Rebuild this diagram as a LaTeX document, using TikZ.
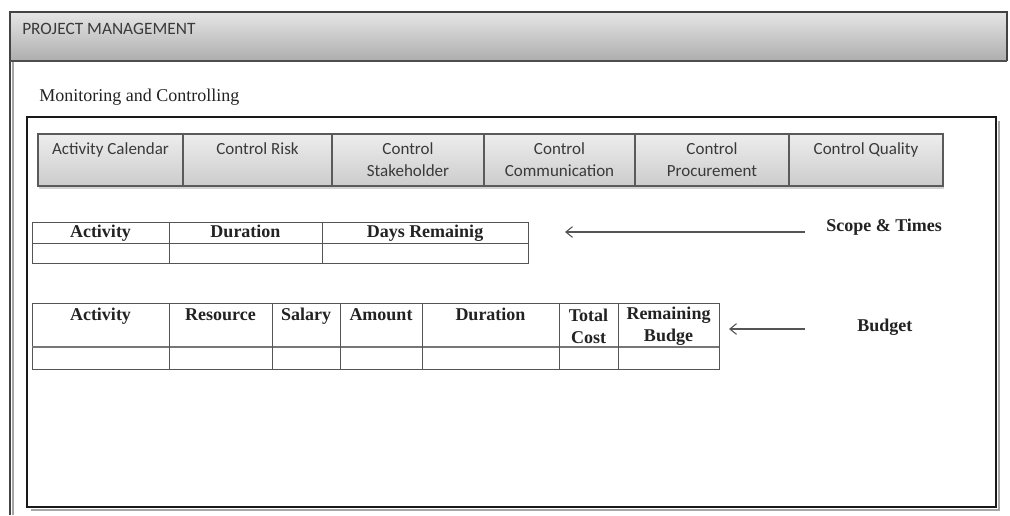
\documentclass[tikz,border=0pt]{standalone}
\usepackage{fontspec}
\setmainfont{Liberation Serif}
\newfontfamily\uifont{Carlito}
\usetikzlibrary{arrows.meta,shadows}
\definecolor{ink}{HTML}{222222}
\definecolor{uiink}{HTML}{3A3A3A}
\definecolor{edge}{HTML}{5A5A5A}
\definecolor{gridc}{HTML}{555555}
\begin{document}
\begin{tikzpicture}[x=0.75pt,y=-0.75pt,
  btn/.style={draw=edge, line width=0.8pt, top color=white!93!black, bottom color=white!80!black,
    minimum height=39pt, inner sep=0pt, align=center, font=\uifont\fontsize{12.75}{16.5}\selectfont,
    text=uiink, drop shadow={opacity=0.35, shadow xshift=0.6pt, shadow yshift=-2pt}},
  hdr/.style={font=\bfseries\fontsize{13.5}{16.5}\selectfont, text=ink, align=center, inner sep=0pt},
  hdrb/.style={hdr, anchor=base},
  tline/.style={draw=gridc, line width=0.7pt},
  arr/.style={draw=gridc, line width=0.8pt, -{Straight Barb[length=5pt,width=8pt]}},
  side/.style={font=\bfseries\fontsize{13.5}{16.5}\selectfont, text=ink, anchor=base west, inner sep=0pt}]
\useasboundingbox (0,0) rectangle (1010,515);

% application window with its title bar
\shade[top color=white!90!black, bottom color=white!68!black] (10,12) rectangle (1007,61);
\draw[line width=1.5pt, color=ink!85] (10,515) -- (10,12) -- (1007,12) -- (1007,61);
\draw[line width=1.5pt, color=ink!80] (10,61) -- (1007,61);
\draw[line width=0.8pt, color=black!35] (13,62) -- (13,515);
\node[anchor=west, inner sep=0pt, font=\uifont\fontsize{13}{15}\selectfont, text=uiink] (title) at (22,29) {PROJECT MANAGEMENT};

\node[anchor=west, inner sep=0pt, font=\fontsize{13.5}{16}\selectfont, text=ink] (section) at (39,97) {Monitoring and Controlling};

% content frame with a soft shadow on the right and bottom
\draw[line width=1.8pt, color=black!35] (999,121) -- (999,510) -- (31,510);
\draw[line width=2.2pt, color=black!90] (27,117) rectangle (996,507);

% tab buttons
\node[btn, minimum width=108.75pt] (b1) at (110.5,160) {Activity Calendar\\\mbox{}};
\node[btn, minimum width=111.75pt] (b2) at (257.5,160) {Control Risk\\\mbox{}};
\node[btn, minimum width=114pt]    (b3) at (408,160)   {Control\\Stakeholder};
\node[btn, minimum width=113.25pt] (b4) at (559.5,160) {Control\\Communication};
\node[btn, minimum width=115.5pt]  (b5) at (712,160)   {Control\\Procurement};
\node[btn, minimum width=115.5pt]  (b6) at (866,160)   {Control Quality\\\mbox{}};

% scope and time table
\draw[tline] (32,222) rectangle (528,263);
\draw[tline] (32,243) -- (528,243);
\foreach \x in {169,322} \draw[tline] (\x,222) -- (\x,263);
\node[hdrb] (sa) at (100.5,237) {Activity};
\node[hdrb] (sd) at (245.5,237) {Duration};
\node[hdrb] (sr) at (425,237)   {Days Remainig};

% budget table
\draw[tline] (32,303) rectangle (719,369);
\draw[draw=gridc!80, line width=1.3pt] (32,347) -- (719,347);
\foreach \x in {169,272,340,422,559,618} \draw[tline] (\x,303) -- (\x,369);
\node[hdrb] (ba) at (100.5,320) {Activity};
\node[hdrb] (br) at (220.5,320) {Resource};
\node[hdrb] (bs) at (306,320)   {Salary};
\node[hdrb] (bm) at (381,320)   {Amount};
\node[hdrb] (bd) at (490.5,320) {Duration};
\node[hdr] (bt) at (588.5,326) {Total\\Cost};
\node[hdr] (bb) at (668.5,326) {Remaining\\Budge};

% side labels and pointers
\node[side] (scope) at (826,231) {Scope \& Times};
\node[side] (budget) at (857,331) {Budget};
\coordinate (s1) at (805,232);
\coordinate (e1) at (565,232);
\coordinate (s2) at (805,329);
\coordinate (e2) at (729,329);
\draw[arr] (s1) -- (e1);
\draw[arr] (s2) -- (e2);
\end{tikzpicture}
\end{document}
